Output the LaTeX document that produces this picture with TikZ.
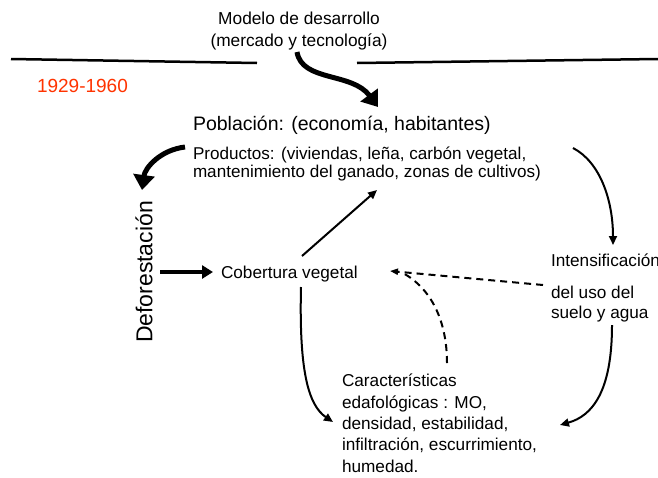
\documentclass[tikz,border=0pt]{standalone}
\usepackage{fontspec}
\setmainfont{Liberation Sans}
\usetikzlibrary{arrows.meta}
\definecolor{yearred}{HTML}{FF3300}
\begin{document}
\begin{tikzpicture}[x=1pt,y=-1pt,
  txt/.style={inner sep=0pt, outer sep=0pt, anchor=base west, font=\fontsize{17.2}{21.3}\selectfont, align=left},
  conn/.style={line width=2pt, -{Triangle[length=9pt,width=8pt]}},
  bigarrow/.style={line width=5pt, -{Triangle[length=15pt,width=21pt]}},
  midarrow/.style={line width=4pt, -{Triangle[length=11pt,width=13pt]}},
  dashconn/.style={line width=2pt, dash pattern=on 7pt off 5pt},
  rule/.style={line width=2.5pt}]
\useasboundingbox (0,0) rectangle (658,477);
\fill[white] (0,0) rectangle (658,477);

% texts (multi-line nodes are placed by the baseline of their last line)
\node[txt, anchor=base, align=center, font=\fontsize{17.3}{22}\selectfont] (modelo) at (299,46) {Modelo de desarrollo\\(mercado y tecnología)};
\node[txt, text=yearred, font=\fontsize{19}{22}\selectfont] (year) at (37,92) {1929-1960};
\node[txt, font=\fontsize{19.5}{23}\selectfont] (pob) at (193,130) {Población: (economía, habitantes)};
\node[txt, font=\fontsize{17.1}{18}\selectfont] (prod) at (193,177) {Productos: (viviendas, leña, carbón vegetal,\\mantenimiento del ganado, zonas de cultivos)};
\node[inner sep=0pt, rotate=90, font=\fontsize{23}{26}\selectfont] (defo) at (144,272) {Deforestación};
\node[txt] (cob) at (221,278) {Cobertura vegetal};
\node[txt] (inten) at (551,266) {Intensificación};
\node[txt, font=\fontsize{17.2}{20}\selectfont] (uso) at (551,318) {del uso del\\suelo y agua};
\node[txt] (carac) at (342,472) {Características\\edafológicas : MO,\\densidad, estabilidad,\\infiltración, escurrimiento,\\humedad.};

% rules
\coordinate (l1) at (11,59); \coordinate (l2) at (257,63);
\coordinate (r1) at (357,63); \coordinate (r2) at (658,59);
\draw[rule] (l1) -- (l2);
\draw[rule] (r1) -- (r2);

% connector end points
\coordinate (mS) at (297,52);  \coordinate (mE) at (378,107);
\coordinate (pL) at (185,147); \coordinate (dT) at (142,190);
\coordinate (pR) at (573,148); \coordinate (iT) at (613,245);
\coordinate (dR) at (160,272); \coordinate (cL) at (213,272);
\coordinate (cU) at (302,256); \coordinate (pB) at (377,190);
\coordinate (cD) at (301,287); \coordinate (kL) at (333,422);
\coordinate (uB) at (612,325); \coordinate (kR) at (560,425);
\coordinate (uL) at (543,285); \coordinate (cR) at (390,271);
\coordinate (kT) at (447,363); \coordinate (cR2) at (401,272);

\draw[bigarrow] (mS) .. controls (302,82) and (352,72) .. (mE);
\draw[bigarrow] (pL) .. controls (160,150) and (145,168) .. (dT);
\draw[conn] (pR) .. controls (600,162) and (613,200) .. (iT);
\draw[midarrow] (dR) -- (cL);
\draw[conn] (cU) -- (pB);
\draw[conn] (cD) .. controls (299,370) and (308,405) .. (kL);
\draw[conn] (uB) .. controls (612,392) and (592,416) .. (kR);
\draw[dashconn, -{Triangle[length=8pt,width=6pt]}] (uL) -- (cR);
\draw[dashconn] (kT) .. controls (447,322) and (432,288) .. (cR2);
\end{tikzpicture}
\end{document}
